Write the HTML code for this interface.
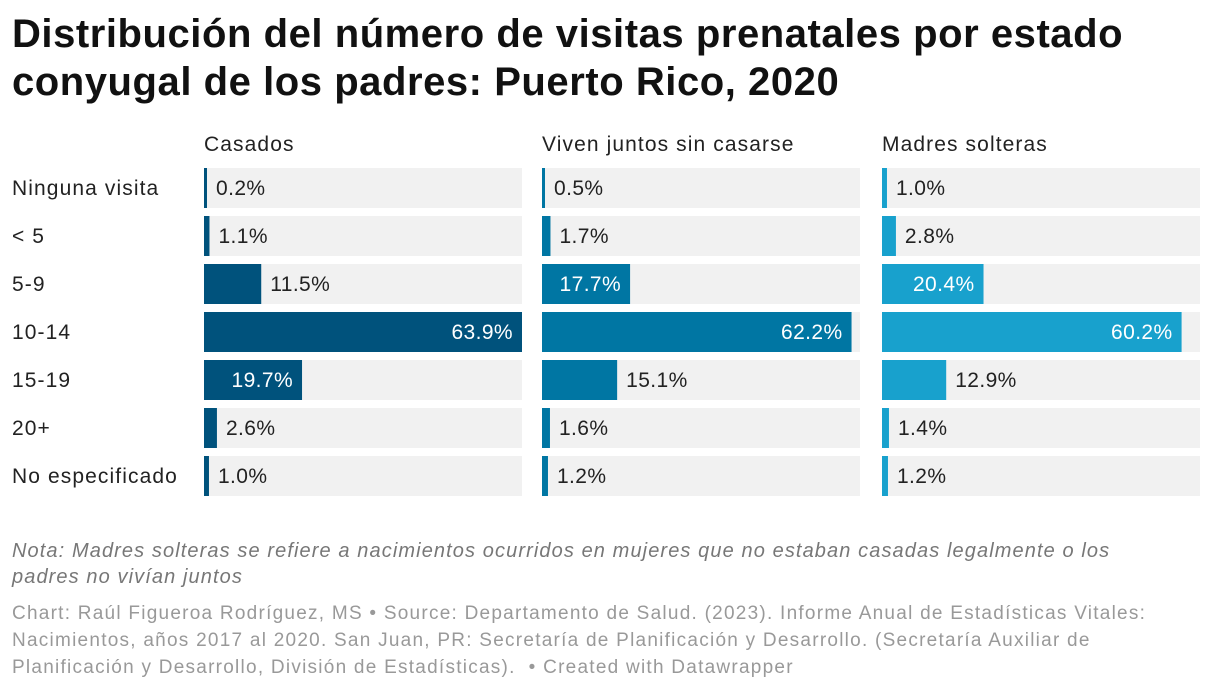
<!DOCTYPE html>
<html><head><meta charset="utf-8">
<style>
body{margin:0;width:1220px;height:690px;background:#fff;font-family:"Liberation Sans",sans-serif;overflow:hidden;position:relative;color:#222}
h1{position:absolute;left:12px;top:10px;margin:0;font-size:40px;line-height:48px;font-weight:bold;color:#111;letter-spacing:0.55px;white-space:nowrap}
.note{position:absolute;left:12px;top:538px;font-size:20px;line-height:26px;font-style:italic;color:#777;width:1200px;letter-spacing:1.1px;white-space:nowrap}
.src{position:absolute;left:12px;top:600px;font-size:19px;line-height:27px;color:#999;width:1200px;letter-spacing:1.25px;white-space:nowrap}
svg text{font-family:"Liberation Sans",sans-serif;letter-spacing:0.4px}
svg text.row{letter-spacing:1.1px}
</style></head><body>
<h1>Distribución del número de visitas prenatales por estado<br>conyugal de los padres: Puerto Rico, 2020</h1>
<svg id="chart" width="1220" height="690" style="position:absolute;left:0;top:0"></svg>
<div class="note">Nota: Madres solteras se refiere a nacimientos ocurridos en mujeres que no estaban casadas legalmente o los<br>padres no vivían juntos</div>
<div class="src">Chart: Raúl Figueroa Rodríguez, MS • Source: Departamento de Salud. (2023). Informe Anual de Estadísticas Vitales:<br>Nacimientos, años 2017 al 2020. San Juan, PR: Secretaría de Planificación y Desarrollo. (Secretaría Auxiliar de<br>Planificación y Desarrollo, División de Estadísticas). &nbsp;• Created with Datawrapper</div>
<script>
const categories=["Ninguna visita","< 5","5-9","10-14","15-19","20+","No especificado"];
const groups=["Casados","Viven juntos sin casarse","Madres solteras"];
const casados=[0.2,1.1,11.5,63.9,19.7,2.6,1.0];
const vivenJuntos=[0.5,1.7,17.7,62.2,15.1,1.6,1.2];
const madresSolteras=[1.0,2.8,20.4,60.2,12.9,1.4,1.2];
const series=[casados,vivenJuntos,madresSolteras];
const colors=["#00527c","#0076a3","#18a1cd"];
const NS="http://www.w3.org/2000/svg";
const svg=document.getElementById('chart');
const panelX=[204,542,882], panelW=318, top0=168, pitch=48, barH=40;
const maxV=Math.max(...series.flat());
const x=v=>Math.max(3,v/maxV*panelW);
const y=i=>top0+i*pitch;
function mk(tag,attrs){const e=document.createElementNS(NS,tag);for(const k in attrs)e.setAttribute(k,attrs[k]);svg.appendChild(e);return e;}
categories.forEach((c,i)=>{
  const t=mk('text',{x:12,y:y(i)+barH/2+7,'font-size':21,fill:'#222',class:'row'});
  t.textContent=c;
  
  
});
groups.forEach((g,gi)=>{
  const h=mk('text',{x:panelX[gi],y:151,'font-size':21,fill:'#222',class:'row'});
  h.textContent=g;
  
  
  series[gi].forEach((v,i)=>{
    const bg=mk('rect',{x:panelX[gi],y:y(i),width:panelW,height:barH,fill:'#f1f1f1'});
    
    
    const w=x(v);
    const b=mk('rect',{x:panelX[gi],y:y(i),width:w,height:barH,fill:colors[gi]});
    
    
    const label=v.toFixed(1)+'%';
    const inside=v>=16;
    const t=mk('text',{x:inside?panelX[gi]+w-9:panelX[gi]+w+9,y:y(i)+barH/2+7,'font-size':21,fill:inside?'#fff':'#222','text-anchor':inside?'end':'start'});
    t.textContent=label;
    
    
  });
});
</script>
</body></html>
